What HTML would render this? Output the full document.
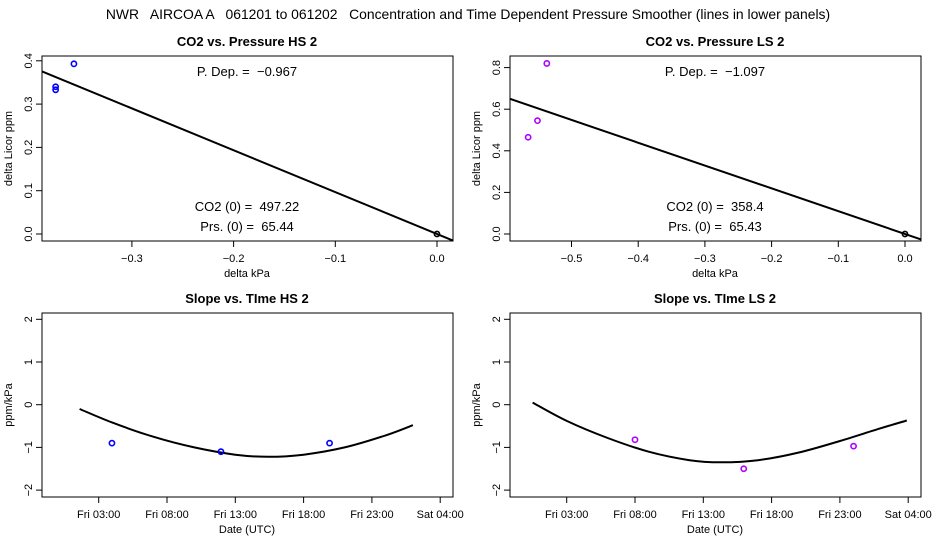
<!DOCTYPE html>
<html><head><meta charset="utf-8"><style>
body{margin:0;background:#fff}
svg{display:block;font-family:"Liberation Sans",sans-serif}
text{white-space:pre}
</style></head><body>
<svg id="c" width="936" height="540" xmlns="http://www.w3.org/2000/svg">
<text x="468" y="19" font-size="13.9" text-anchor="middle" xml:space="preserve">NWR   AIRCOA A   061201 to 061202   Concentration and Time Dependent Pressure Smoother (lines in lower panels)</text>
</svg>
<script>
// Top-left HS data
const hsDp = [-0.375, -0.375, -0.357];
const hsDc = [0.340, 0.333, 0.393];
const hsSlope = -0.967;
// Top-right LS data
const lsDp = [-0.565, -0.551, -0.537];
const lsDc = [0.465, 0.545, 0.820];
const lsSlope = -1.097;
// Bottom-left HS slope vs time (hours since Fri 00:00)
const hsPtHours = [3.97, 11.95, 19.9];
const hsPtSlopes = [-0.9, -1.1, -0.9];
const hsCurveHours = [1.6, 4, 7, 10, 13, 15.4, 18, 21, 24, 26];
const hsCurveVals = [-0.1, -0.42, -0.75, -1.0, -1.17, -1.22, -1.17, -1.0, -0.72, -0.48];
// Bottom-right LS slope vs time
const lsPtHours = [8.0, 15.96, 24.0];
const lsPtSlopes = [-0.82, -1.5, -0.97];
const lsCurveHours = [0.5, 3, 6, 9, 12, 14.3, 17, 20, 23, 26, 27.9];
const lsCurveVals = [0.05, -0.38, -0.78, -1.1, -1.3, -1.35, -1.3, -1.12, -0.85, -0.55, -0.37];
const timeTicks = [3, 8, 13, 18, 23, 28];
const timeLabels = ["Fri 03:00", "Fri 08:00", "Fri 13:00", "Fri 18:00", "Fri 23:00", "Sat 04:00"];
const slopeTicks = [-2, -1, 0, 1, 2];

const svg = document.getElementById('c');
const NS = 'http://www.w3.org/2000/svg';
function mk(tag, attrs, parent) {
  const e = document.createElementNS(NS, tag);
  for (const k in attrs) e.setAttribute(k, attrs[k]);
  (parent || svg).appendChild(e);
  return e;
}
function txt(x, y, s, size, anchor, parent, weight, rot) {
  const t = mk('text', {x: x, y: y, 'font-size': size, 'text-anchor': anchor || 'middle'}, parent);
  if (weight) t.setAttribute('font-weight', weight);
  if (rot) t.setAttribute('transform', 'rotate(-90 ' + x + ' ' + y + ')');
  t.textContent = s;
  return t;
}
function panel(ox, oy, top, title, xlab, ylab, name) {
  const g = mk('g', {});
  
  
  const bx = ox + 42, by = oy + top, bw = 411, bh = top === 26 ? 185 : 184;
  const r = mk('rect', {x: bx, y: by, width: bw, height: bh, fill: 'none', stroke: '#000', 'stroke-width': 1}, g);
  
  
  const t = txt(ox + 247, oy + top - 10, title, 13, 'middle', g, 'bold');
  
  
  const xl = txt(ox + 247, by + bh + 36, xlab, 11, 'middle', g);
  
  
  const yl = txt(ox + 12, by + bh / 2, ylab, 11, 'middle', g, null, true);
  
  
  return {g: g, bx: bx, by: by, bw: bw, bh: bh};
}
function axes(p, xs, ys, xt, xlabels, yt, ylabels) {
  const g = p.g;
  const yb = p.by + p.bh;
  xt.forEach((v, i) => {
    const x = xs(v);
    mk('line', {x1: x, x2: x, y1: yb, y2: yb + 6, stroke: '#000'}, g);
    const l = txt(x, yb + 21, xlabels[i], 11, 'middle', g);
    
    
  });
  yt.forEach((v, i) => {
    const y = ys(v);
    mk('line', {x1: p.bx, x2: p.bx - 6, y1: y, y2: y, stroke: '#000'}, g);
    const l = txt(p.bx - 10, y, ylabels[i], 11, 'middle', g, null, true);
    
    
  });
}
function clip(p, id) {
  const cp = mk('clipPath', {id: id});
  mk('rect', {x: p.bx, y: p.by, width: p.bw, height: p.bh}, cp);
}
function pt(g, x, y, col, name) {
  const c = mk('circle', {cx: x, cy: y, r: 2.6, fill: 'none', stroke: col, 'stroke-width': 1.6}, g);
  
  
}

// ---- top panels
function topPanel(ox, title, dp, dc, slope, pxPerX, x0px, y0px, pxPerY, xt, yt, col, co2, prs, name) {
  const p = panel(ox, 30, 26, title, 'delta kPa', 'delta Licor ppm', name);
  const xs = v => x0px + ox + v * pxPerX;
  const ys = v => y0px - v * pxPerY;
  axes(p, xs, ys, xt, xt.map(v => v === 0 ? '0.0' : v.toFixed(1).replace('-', '\u2212')), yt, yt.map(v => v.toFixed(1)));
  const id = 'clip' + ox;
  clip(p, id);
  const xa = (p.bx - x0px - ox) / pxPerX, xb = (p.bx + p.bw - x0px - ox) / pxPerX;
  const ln = mk('line', {x1: xs(xa), y1: ys(slope * xa), x2: xs(xb), y2: ys(slope * xb), stroke: '#000', 'stroke-width': 2, 'clip-path': 'url(#' + id + ')'}, p.g);
  
  
  dp.forEach((v, i) => pt(p.g, xs(v), ys(dc[i]), col, 'data-point'));
  pt(p.g, xs(0), ys(0), '#000', 'origin-point');
  const cx = ox + 247;
  const a = txt(cx, 76, 'P. Dep. =  ' + slope.toFixed(3).replace('-', '\u2212'), 13, 'middle', p.g);
  
  
  const b = txt(cx, 211, 'CO2 (0) =  ' + co2, 13, 'middle', p.g);
  
  
  const c = txt(cx, 231, 'Prs. (0) =  ' + prs, 13, 'middle', p.g);
  
  
}
topPanel(0, 'CO2 vs. Pressure HS 2', hsDp, hsDc, hsSlope, 1017, 437, 234, 433, [-0.3, -0.2, -0.1, 0], [0, 0.1, 0.2, 0.3, 0.4], '#0000ff', '497.22', '65.44', 'panel-co2-pressure-hs');
topPanel(468, 'CO2 vs. Pressure LS 2', lsDp, lsDc, lsSlope, 667, 437, 234, 208, [-0.5, -0.4, -0.3, -0.2, -0.1, 0], [0, 0.2, 0.4, 0.6, 0.8], '#b000ff', '358.4', '65.43', 'panel-co2-pressure-ls');

// ---- bottom panels
function smooth(P) {
  let d = 'M' + P[0][0].toFixed(1) + ',' + P[0][1].toFixed(1);
  for (let i = 0; i < P.length - 1; i++) {
    const p0 = P[Math.max(0, i - 1)], p1 = P[i], p2 = P[i + 1], p3 = P[Math.min(P.length - 1, i + 2)];
    const c1 = [p1[0] + (p2[0] - p0[0]) / 6, p1[1] + (p2[1] - p0[1]) / 6];
    const c2 = [p2[0] - (p3[0] - p1[0]) / 6, p2[1] - (p3[1] - p1[1]) / 6];
    d += ' C' + c1.map(v => v.toFixed(1)).join(',') + ' ' + c2.map(v => v.toFixed(1)).join(',') + ' ' + p2.map(v => v.toFixed(1)).join(',');
  }
  return d;
}
function botPanel(ox, title, ph, pv, ch, cv, col, name) {
  const p = panel(ox, 290, 23, title, 'Date (UTC)', 'ppm/kPa', name);
  const xs = v => ox + 98.7 + (v - 3) * 13.66;
  const ys = v => 404.7 - v * 42.7;
  axes(p, xs, ys, timeTicks, timeLabels, slopeTicks, slopeTicks.map(v => String(v).replace('-', '\u2212')));
  const pa = mk('path', {d: smooth(ch.map((h, i) => [xs(h), ys(cv[i])])), fill: 'none', stroke: '#000', 'stroke-width': 2}, p.g);
  
  
  ph.forEach((h, i) => pt(p.g, xs(h), ys(pv[i]), col, 'slope-point'));
}
botPanel(0, 'Slope vs. TIme HS 2', hsPtHours, hsPtSlopes, hsCurveHours, hsCurveVals, '#0000ff', 'panel-slope-time-hs');
botPanel(468, 'Slope vs. TIme LS 2', lsPtHours, lsPtSlopes, lsCurveHours, lsCurveVals, '#b000ff', 'panel-slope-time-ls');
</script>
</body></html>
